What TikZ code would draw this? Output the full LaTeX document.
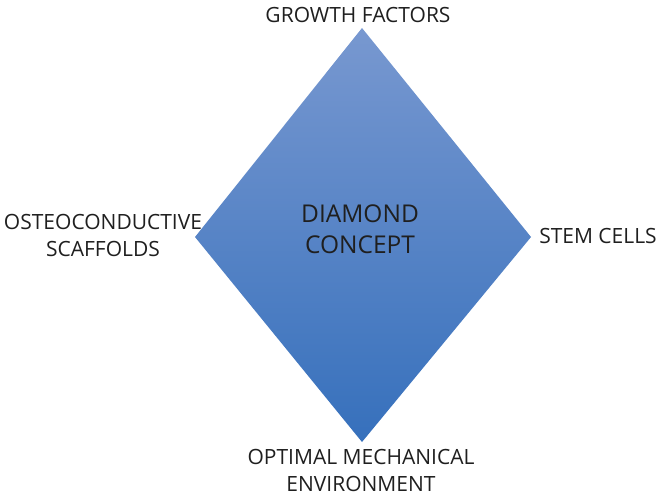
\documentclass[tikz,border=0pt]{standalone}
\usepackage{fontspec}
\setmainfont{Open Sans}
\begin{document}
\begin{tikzpicture}[x=1pt,y=-1pt,
  lbl/.style={font=\fontsize{21}{27}\selectfont, text=black!88, align=center, inner sep=0pt},
  ctr/.style={font=\fontsize{24.5}{31}\selectfont, text=black!88, align=center, inner sep=0pt}]
\useasboundingbox (0,0) rectangle (660,495);
\definecolor{dtop}{HTML}{7898D0}
\definecolor{dbot}{HTML}{3670BC}
\coordinate (T) at (362,28);
\coordinate (R) at (531,237);
\coordinate (B) at (362,442);
\coordinate (L) at (195,237);
\shade[top color=dtop, bottom color=dbot] (T) -- (R) -- (B) -- (L) -- cycle;
\node[ctr] (c) at (360,229) {DIAMOND\\CONCEPT};
\node[lbl] (gf) at (358,15) {GROWTH FACTORS};
\node[lbl] (sc) at (598,236) {STEM CELLS};
\node[lbl] (os) at (103,235) {OSTEOCONDUCTIVE\\SCAFFOLDS};
\node[lbl] (om) at (361,470) {OPTIMAL MECHANICAL\\ENVIRONMENT};
\end{tikzpicture}
\end{document}
